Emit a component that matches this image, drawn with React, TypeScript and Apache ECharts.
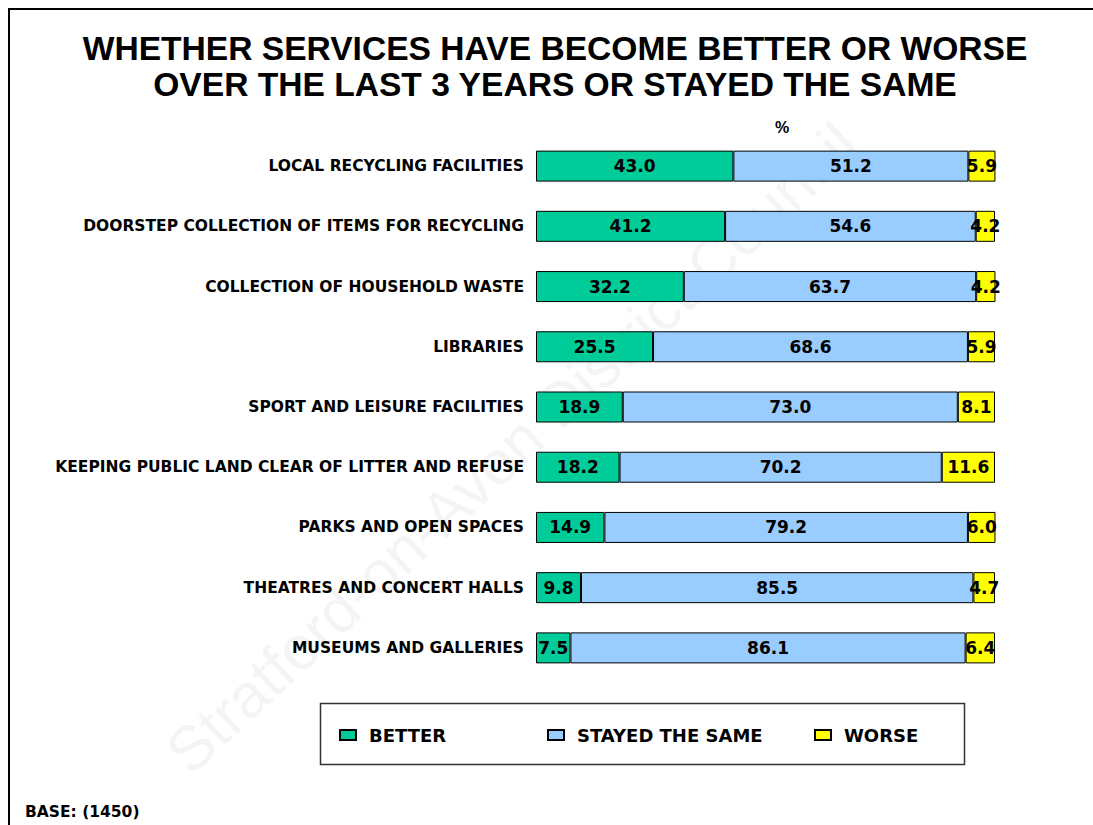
import React, { useEffect, useRef } from "react";
import * as echarts from "echarts";

const categories = [
  "LOCAL RECYCLING FACILITIES",
  "DOORSTEP COLLECTION OF ITEMS FOR RECYCLING",
  "COLLECTION OF HOUSEHOLD WASTE",
  "LIBRARIES",
  "SPORT AND LEISURE FACILITIES",
  "KEEPING PUBLIC LAND CLEAR OF LITTER AND REFUSE",
  "PARKS AND OPEN SPACES",
  "THEATRES AND CONCERT HALLS",
  "MUSEUMS AND GALLERIES",
];
const better = [43.0, 41.2, 32.2, 25.5, 18.9, 18.2, 14.9, 9.8, 7.5];
const same = [51.2, 54.6, 63.7, 68.6, 73.0, 70.2, 79.2, 85.5, 86.1];
const worse = [5.9, 4.2, 4.2, 5.9, 8.1, 11.6, 6.0, 4.7, 6.4];

const seriesNames = ["BETTER", "STAYED THE SAME", "WORSE"];
const seriesColors = ["#00CC99", "#99CCFF", "#FFFF00"];
const titleText = "WHETHER SERVICES HAVE BECOME BETTER OR WORSE\nOVER THE LAST 3 YEARS OR STAYED THE SAME";
const baseText = "BASE: (1450)";
const watermark = "Stratford-on-Avon District Council";

const FONT = "'DejaVu Sans', Verdana, sans-serif";

export default function App() {
  const ref = useRef<HTMLDivElement>(null);
  useEffect(() => {
    if (!ref.current) return;
    const chart = echarts.init(ref.current, null, { renderer: "svg" });
    const dataSets = [better, same, worse];
    const legendLefts = [339, 547, 814];
    chart.setOption({
      animation: false,
      backgroundColor: "#ffffff",
      grid: { left: 536, right: 98, top: 136, bottom: 147, containLabel: false },
      xAxis: { type: "value", min: 0, max: 100, show: false },
      yAxis: {
        type: "category",
        data: categories,
        inverse: true,
        axisLine: { show: false },
        axisTick: { show: false },
        axisLabel: {
          margin: 12,
          color: "#000",
          fontFamily: FONT,
          fontWeight: "bold",
          fontSize: 15.5,
          padding: [4, 0, 0, 0],
        },
      },
      legend: seriesNames.map((n, i) => ({
        data: [n],
        left: legendLefts[i],
        top: 725,
        padding: 0,
        itemWidth: 16,
        itemHeight: 10,
        icon: "rect",
        selectedMode: false,
        textStyle: {
          color: "#000",
          fontFamily: FONT,
          fontWeight: "bold",
          fontSize: 18,
          lineHeight: 20,
          padding: [0, 0, 0, 8],
        },
      })),
      series: seriesNames.map((n, i) => ({
        name: n,
        type: "bar",
        stack: "total",
        barWidth: 31,
        clip: false,
        data: dataSets[i],
        itemStyle: { color: seriesColors[i], borderColor: "#000", borderWidth: 1 },
        label: {
          show: true,
          position: "inside",
          color: "#000",
          fontFamily: FONT,
          fontWeight: "bold",
          fontSize: 17,
          formatter: (p: any) => Number(p.value).toFixed(1),
        },
      })),
      graphic: [
        {
          type: "text",
          x: 512,
          y: 448,
          rotation: (43 * Math.PI) / 180,
          z: -10,
          silent: true,
          style: {
            text: watermark,
            fontFamily: "'Liberation Sans', Arial, sans-serif",
            fontSize: 62,
            fill: "rgba(0,0,0,0.045)",
            align: "center",
            verticalAlign: "middle",
          },
        },
        {
          type: "line",
          shape: { x1: 8, y1: 9, x2: 1093, y2: 9 },
          style: { stroke: "#000", lineWidth: 2 },
        },
        {
          type: "line",
          shape: { x1: 9, y1: 8, x2: 9, y2: 825 },
          style: { stroke: "#000", lineWidth: 2 },
        },
        {
          type: "text",
          x: 555,
          y: 30,
          style: {
            text: titleText,
            fontFamily: "'Liberation Sans', Arial, sans-serif",
            fontWeight: "bold",
            fontSize: 33.6,
            lineHeight: 36,
            fill: "#000",
            align: "center",
            verticalAlign: "top",
          },
        },
        {
          type: "text",
          x: 782,
          y: 127,
          style: {
            text: "%",
            fontFamily: "'Liberation Sans', Arial, sans-serif",
            fontWeight: "bold",
            fontSize: 16,
            fill: "#000",
            align: "center",
            verticalAlign: "middle",
          },
        },
        {
          type: "rect",
          shape: { x: 320.5, y: 703.5, width: 644, height: 61 },
          style: { fill: "none", stroke: "#333", lineWidth: 1.5 },
        },
        {
          type: "text",
          x: 25,
          y: 812,
          style: {
            text: baseText,
            fontFamily: FONT,
            fontWeight: "bold",
            fontSize: 15.5,
            fill: "#000",
            align: "left",
            verticalAlign: "middle",
          },
        },
      ],
    });
    return () => chart.dispose();
  }, []);
  return (
    <div
      ref={ref}
      style={{ position: "fixed", left: 0, top: 0, width: 1093, height: 825 }}
    />
  );
}
